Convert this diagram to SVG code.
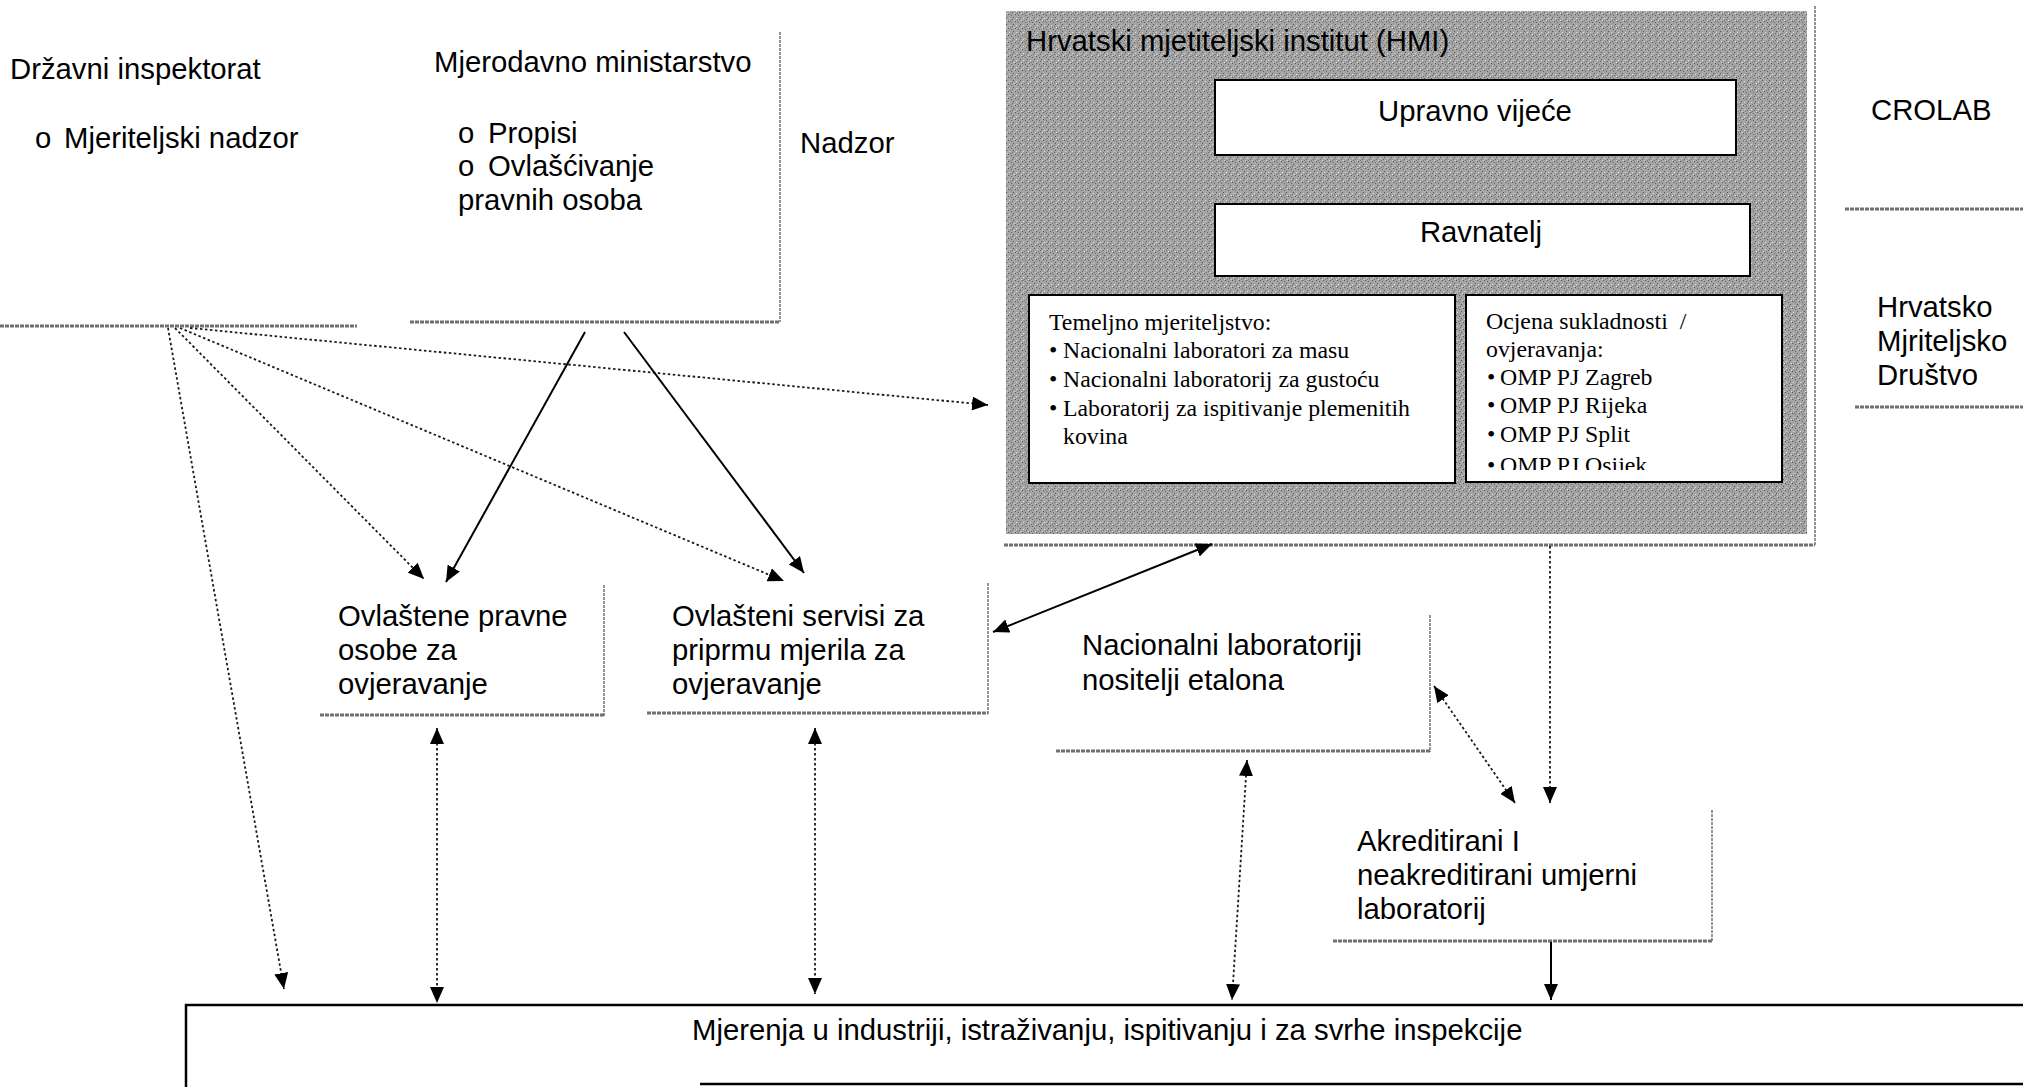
<svg xmlns="http://www.w3.org/2000/svg" width="2023" height="1087" viewBox="0 0 2023 1087">
<style>
.s{font-family:"Liberation Sans",Arial,sans-serif;font-size:29.3px;fill:#000}
.t{font-family:"Liberation Serif","Times New Roman",serif;font-size:23.8px;fill:#000}
.edge{fill:none;stroke:#707070;stroke-width:3;stroke-dasharray:4 1}
.edgev{fill:none;stroke:#888;stroke-width:1.8;stroke-dasharray:3 1}
.dot{fill:none;stroke:#1a1a1a;stroke-width:1.8;stroke-dasharray:2.5 2.5}
.sol{fill:none;stroke:#000;stroke-width:2}
.wb{fill:#fff;stroke:#000;stroke-width:2}
</style>
<defs>
<marker id="ah" viewBox="0 0 16 14" refX="16" refY="7" markerWidth="16" markerHeight="14" markerUnits="userSpaceOnUse" orient="auto-start-reverse">
<path d="M0,0 L16,7 L0,14 z" fill="#000"/>
</marker>
<pattern id="grain" width="7" height="7" patternUnits="userSpaceOnUse">
<rect width="7" height="7" fill="#a4a4a4"/>
<rect x="0" y="0" width="1" height="1" fill="#555"/>
<rect x="3" y="1" width="1" height="1" fill="#666"/>
<rect x="5" y="3" width="1" height="1" fill="#555"/>
<rect x="1" y="4" width="1" height="1" fill="#ddd"/>
<rect x="4" y="5" width="1" height="1" fill="#666"/>
<rect x="6" y="6" width="1" height="1" fill="#ddd"/>
<rect x="2" y="6" width="1" height="1" fill="#777"/>
</pattern>
<clipPath id="clipR"><rect x="1466" y="295" width="316" height="175"/></clipPath>
</defs>

<g id="drzavni-inspektorat">
<text class="s" x="10" y="79">Državni inspektorat</text>
<text class="s" x="35" y="148">o</text>
<text class="s" x="64" y="148">Mjeriteljski nadzor</text>
<line class="edge" x1="0" y1="326" x2="357" y2="326"/>
</g>

<g id="mjerodavno-ministarstvo">
<text class="s" x="434" y="72">Mjerodavno ministarstvo</text>
<text class="s" x="458" y="143">o</text>
<text class="s" x="488" y="143">Propisi</text>
<text class="s" x="458" y="176">o</text>
<text class="s" x="488" y="176">Ovlašćivanje</text>
<text class="s" x="458" y="210">pravnih osoba</text>
<line class="edgev" x1="780" y1="32" x2="780" y2="322"/>
<line class="edge" x1="410" y1="322" x2="780" y2="322"/>
</g>

<g id="nadzor">
<text class="s" x="800" y="153">Nadzor</text>
</g>

<g id="hmi">
<line class="edgev" x1="1815" y1="6" x2="1815" y2="546"/>
<line class="edge" x1="1004" y1="545" x2="1815" y2="545"/>
<rect x="1006" y="11" width="801" height="523" fill="url(#grain)"/>
<text class="s" x="1026" y="51" fill="#1a1a1a">Hrvatski mjetiteljski institut (HMI)</text>
<g id="upravno-vijece">
<rect class="wb" x="1215" y="80" width="521" height="75"/>
<text class="s" x="1475" y="121" text-anchor="middle">Upravno vijeće</text>
</g>
<g id="ravnatelj">
<rect class="wb" x="1215" y="204" width="535" height="72"/>
<text class="s" x="1481" y="242" text-anchor="middle">Ravnatelj</text>
</g>
<g id="temeljno-mjeriteljstvo">
<rect class="wb" x="1029" y="295" width="426" height="188"/>
<text class="t" x="1049" y="330">Temeljno mjeriteljstvo:</text>
<text class="t" x="1049" y="358">•</text><text class="t" x="1063" y="358">Nacionalni laboratori za masu</text>
<text class="t" x="1049" y="387">•</text><text class="t" x="1063" y="387">Nacionalni laboratorij za gustoću</text>
<text class="t" x="1049" y="416">•</text><text class="t" x="1063" y="416">Laboratorij za ispitivanje plemenitih</text>
<text class="t" x="1063" y="444">kovina</text>
</g>
<g id="ocjena-sukladnosti">
<rect class="wb" x="1466" y="295" width="316" height="187"/>
<g clip-path="url(#clipR)">
<text class="t" x="1486" y="329" xml:space="preserve">Ocjena sukladnosti  /</text>
<text class="t" x="1486" y="357">ovjeravanja:</text>
<text class="t" x="1487" y="385">•</text><text class="t" x="1500" y="385">OMP PJ Zagreb</text>
<text class="t" x="1487" y="413">•</text><text class="t" x="1500" y="413">OMP PJ Rijeka</text>
<text class="t" x="1487" y="442">•</text><text class="t" x="1500" y="442">OMP PJ Split</text>
<text class="t" x="1487" y="473">•</text><text class="t" x="1500" y="473">OMP PJ Osijek</text>
</g>
</g>
</g>

<g id="crolab">
<text class="s" x="1871" y="120">CROLAB</text>
<line class="edge" x1="1845" y1="209" x2="2023" y2="209"/>
</g>

<g id="hmd">
<text class="s" x="1877" y="317">Hrvatsko</text>
<text class="s" x="1877" y="351">Mjriteljsko</text>
<text class="s" x="1877" y="385">Društvo</text>
<line class="edge" x1="1855" y1="407" x2="2023" y2="407"/>
</g>

<g id="ovlastene-pravne-osobe">
<text class="s" x="338" y="626">Ovlaštene pravne</text>
<text class="s" x="338" y="660">osobe za</text>
<text class="s" x="338" y="694">ovjeravanje</text>
<line class="edgev" x1="604" y1="585" x2="604" y2="716"/>
<line class="edge" x1="320" y1="715" x2="604" y2="715"/>
</g>

<g id="ovlasteni-servisi">
<text class="s" x="672" y="626">Ovlašteni servisi za</text>
<text class="s" x="672" y="660">priprmu mjerila za</text>
<text class="s" x="672" y="694">ovjeravanje</text>
<line class="edgev" x1="988" y1="583" x2="988" y2="714"/>
<line class="edge" x1="647" y1="713" x2="988" y2="713"/>
</g>

<g id="nacionalni-laboratoriji">
<text class="s" x="1082" y="655">Nacionalni laboratoriji</text>
<text class="s" x="1082" y="690">nositelji etalona</text>
<line class="edgev" x1="1430" y1="615" x2="1430" y2="752"/>
<line class="edge" x1="1056" y1="751" x2="1430" y2="751"/>
</g>

<g id="akreditirani-laboratoriji">
<text class="s" x="1357" y="851">Akreditirani I</text>
<text class="s" x="1357" y="885">neakreditirani umjerni</text>
<text class="s" x="1357" y="919">laboratorij</text>
<line class="edgev" x1="1712" y1="810" x2="1712" y2="942"/>
<line class="edge" x1="1333" y1="941" x2="1712" y2="941"/>
</g>

<g id="mjerenja">
<path d="M186,1087 L186,1005 L2023,1005" fill="none" stroke="#000" stroke-width="2.5"/>
<line x1="700" y1="1084" x2="2023" y2="1084" stroke="#000" stroke-width="2.5"/>
<text class="s" x="692" y="1040">Mjerenja u industriji, istraživanju, ispitivanju i za svrhe inspekcije</text>
</g>

<g id="connectors">
<line class="dot" x1="190" y1="328" x2="988" y2="405" marker-end="url(#ah)"/>
<line class="dot" x1="175" y1="328" x2="424" y2="579" marker-end="url(#ah)"/>
<line class="dot" x1="180" y1="328" x2="784" y2="581" marker-end="url(#ah)"/>
<line class="dot" x1="168" y1="328" x2="284" y2="989" marker-end="url(#ah)"/>
<line class="sol" x1="585" y1="332" x2="446" y2="582" marker-end="url(#ah)"/>
<line class="sol" x1="624" y1="332" x2="804" y2="573" marker-end="url(#ah)"/>
<line class="sol" x1="993" y1="632" x2="1212" y2="544" marker-start="url(#ah)" marker-end="url(#ah)"/>
<line class="dot" x1="1550" y1="546" x2="1550" y2="803" marker-end="url(#ah)"/>
<line class="dot" x1="1434" y1="686" x2="1515" y2="803" marker-start="url(#ah)" marker-end="url(#ah)"/>
<line class="sol" x1="1551" y1="942" x2="1551" y2="1000" marker-end="url(#ah)"/>
<line class="dot" x1="437" y1="728" x2="437" y2="1003" marker-start="url(#ah)" marker-end="url(#ah)"/>
<line class="dot" x1="815" y1="728" x2="815" y2="994" marker-start="url(#ah)" marker-end="url(#ah)"/>
<line class="dot" x1="1247" y1="760" x2="1232" y2="1000" marker-start="url(#ah)" marker-end="url(#ah)"/>
</g>
</svg>
